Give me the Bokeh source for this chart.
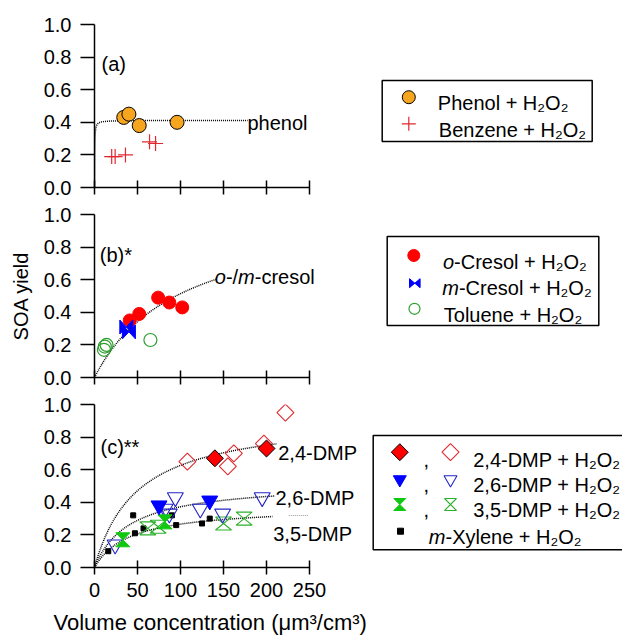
import numpy as np
from bokeh.plotting import figure
from bokeh.models import Range1d, FixedTicker, PrintfTickFormatter, Label, LinearAxis, Title
from bokeh.layouts import column
from bokeh.embed import file_html
from bokeh.resources import INLINE

FONT = "Liberation Sans"

# ---------------- data ----------------
x_ticks = [0, 50, 100, 150, 200, 250]
y_ticks = [0.0, 0.2, 0.4, 0.6, 0.8, 1.0]

phenol_x = [34, 40, 52, 96]
phenol_y = [0.43, 0.45, 0.38, 0.40]
benzene_x = [20, 24, 36, 64, 71]
benzene_y = [0.19, 0.19, 0.20, 0.28, 0.27]

ocresol_x = [41, 52, 74, 87, 102]
ocresol_y = [0.35, 0.39, 0.49, 0.46, 0.43]
mcresol_x = [37, 40]
mcresol_y = [0.31, 0.28]
toluene_x = [11, 12, 14, 65]
toluene_y = [0.17, 0.19, 0.20, 0.23]

dmp24_x = [140, 200]
dmp24_y = [0.67, 0.73]
dmp24_open_x = [108, 155, 162, 197, 222]
dmp24_open_y = [0.65, 0.62, 0.70, 0.76, 0.95]
dmp26_x = [75, 134]
dmp26_y = [0.38, 0.41]
dmp26_open_x = [24, 82, 87, 94, 123, 149, 195]
dmp26_open_y = [0.14, 0.36, 0.33, 0.43, 0.36, 0.33, 0.43]
dmp35_x = [33, 82]
dmp35_y = [0.17, 0.28]
dmp35_open_x = [62, 74, 150, 174]
dmp35_open_y = [0.24, 0.25, 0.27, 0.30]
mxylene_x = [16, 45, 47, 57, 90, 95, 125, 134]
mxylene_y = [0.10, 0.32, 0.21, 0.24, 0.32, 0.26, 0.27, 0.30]

# yield-curve fits  Y = a*K*M / (1 + K*M)
fit_names = ["phenol", "cresol", "dmp24", "dmp26", "dmp35"]
fit_a = [0.412, 1.03, 0.935, 0.524, 0.374]
fit_K = [5.0, 0.00997, 0.0203, 0.0246, 0.0246]
fit_end = [178, 142, 212, 210, 207]

# ---------------- geometry / style ----------------
FW, FH = 528, 163
XPX = 0.86          # px per x unit
YPX = FH / 1.0      # px per y unit
LEFT = 94

ORANGE = "#F5A51E"
RED = "#FF0000"
RED2 = "#E0282E"
BLUE = "#0000FF"
BLUE2 = "#2424C8"
GREEN = "#10C810"
GREEN2 = "#2DB02D"
GREEN3 = "#2E9E2E"


def make_fig(top, bottom, ylabel=None, xlabels=False):
    p = figure(frame_width=FW, frame_height=FH,
               x_range=Range1d(0, FW / XPX), y_range=Range1d(0, 1.0),
               x_axis_type=None, y_axis_type=None,
               output_backend="svg", toolbar_location=None,
               min_border_left=LEFT, min_border_right=0,
               min_border_top=top, min_border_bottom=bottom,
               background_fill_color="white", border_fill_color="white",
               outline_line_color=None)
    p.extra_x_ranges = {"px": Range1d(0, FW)}
    p.extra_y_ranges = {"px": Range1d(0, FH)}

    xa = LinearAxis(ticker=FixedTicker(ticks=x_ticks), bounds=(0, 250),
                    major_tick_in=7, major_tick_out=7,
                    minor_tick_in=0, minor_tick_out=0,
                    axis_line_width=1.5, major_tick_line_width=1.5,
                    axis_line_color="black", major_tick_line_color="black",
                    major_label_text_font=FONT, major_label_text_color="black")
    if xlabels:
        xa.major_label_text_font_size = "20px"
        xa.major_label_standoff = 8
    else:
        xa.major_label_overrides = {t: "" for t in x_ticks}
        xa.major_label_text_font_size = "0px"
        xa.major_label_standoff = 0
    p.add_layout(xa, "below")

    ya = LinearAxis(ticker=FixedTicker(ticks=y_ticks),
                    formatter=PrintfTickFormatter(format="%.1f"),
                    bounds=(0, 1),
                    major_tick_in=0, major_tick_out=14,
                    minor_tick_in=0, minor_tick_out=0,
                    axis_line_width=1.5, major_tick_line_width=1.5,
                    axis_line_color="black", major_tick_line_color="black",
                    major_label_text_font=FONT, major_label_text_font_size="20px",
                    major_label_text_color="black", major_label_standoff=9)
    if ylabel:
        ya.axis_label = ylabel
        ya.axis_label_text_font = FONT
        ya.axis_label_text_font_size = "20px"
        ya.axis_label_text_font_style = "normal"
        ya.axis_label_text_color = "black"
        ya.axis_label_standoff = 9
    p.add_layout(ya, "left")
    return p


def txt(p, x, y, s, style="normal", size="20px", color="black", align="left"):
    p.add_layout(Label(x=x, y=y, text=s, x_range_name="px", y_range_name="px",
                       text_font=FONT, text_font_size=size, text_font_style=style,
                       text_color=color, text_align=align, text_baseline="alphabetic"))


def fit_line(p, i):
    M = np.concatenate([np.linspace(0, 3, 80), np.linspace(3, fit_end[i], 240)[1:]])
    Y = fit_a[i] * fit_K[i] * M / (1 + fit_K[i] * M)
    p.line(M, Y, line_color="black", line_dash="1 1", line_width=1.5)


def hourglass(xs, ys, w, h, sx, sy):
    pxs = [[x - w * sx, x + w * sx, x - w * sx, x + w * sx] for x in xs]
    pys = [[y + h * sy, y + h * sy, y - h * sy, y - h * sy] for y in ys]
    return pxs, pys


def bowtie(xs, ys, w, h, sx, sy):
    pxs = [[x - w * sx, x - w * sx, x + w * sx, x + w * sx] for x in xs]
    pys = [[y + h * sy, y - h * sy, y + h * sy, y - h * sy] for y in ys]
    return pxs, pys


DX, DY = 1 / XPX, 1 / YPX   # data units per pixel
PX = dict(x_range_name="px", y_range_name="px")

# ================= panel (a) =================
pa = make_fig(24, 11)
fit_line(pa, 0)
pa.scatter(benzene_x, benzene_y, marker="cross", size=15, line_color=RED2, line_width=1.2)
pa.scatter(phenol_x, phenol_y, marker="circle", size=14, fill_color=ORANGE,
           line_color="black", line_width=1)
txt(pa, 7, 124, "(a)")
txt(pa, 153, 65, "phenol")
# legend (a)
pa.quad(left=[287.7], right=[497.7], top=[107], bottom=[46], fill_color=None,
        line_color="black", line_width=1.5, **PX)
pa.scatter([314.3], [90.3], marker="circle", size=13, fill_color=ORANGE,
           line_color="black", line_width=1, **PX)
pa.scatter([314.3], [63.7], marker="cross", size=14, line_color=RED2, line_width=1.2, **PX)
txt(pa, 343.3, 84.3, "Phenol + H\u2082O\u2082")
txt(pa, 344.3, 57.7, "Benzene + H\u2082O\u2082")

# ================= panel (b) =================
pb = make_fig(16, 11, ylabel="SOA yield")
fit_line(pb, 1)
pb.scatter(toluene_x, toluene_y, marker="circle", size=13, fill_color=None,
           line_color=GREEN3, line_width=1.2)
pb.scatter(ocresol_x, ocresol_y, marker="circle", size=13, fill_color=RED, line_color=RED)
bx, by = bowtie(mcresol_x, mcresol_y, 6.5, 7, DX, DY)
pb.patches(bx, by, fill_color=BLUE, line_color=BLUE, line_width=1)
txt(pb, 5.3, 122.7, "(b)*")
txt(pb, 120.3, 101, "o", style="italic")
txt(pb, 131.4, 101, "-/")
txt(pb, 143.6, 101, "m", style="italic")
txt(pb, 160.3, 101, "-cresol")
# legend (b)
pb.quad(left=[292.7], right=[504.3], top=[141], bottom=[52], fill_color=None,
        line_color="black", line_width=1.5, **PX)
pb.scatter([319.3], [122], marker="circle", size=12, fill_color=RED, line_color=RED, **PX)
lbx, lby = bowtie([320.3], [94.3], 5.3, 4.5, 1, 1)
pb.patches(lbx, lby, fill_color=BLUE, line_color=BLUE, line_width=1, **PX)
pb.scatter([320], [68.7], marker="circle", size=11, fill_color=None,
           line_color=GREEN3, line_width=1.2, **PX)
txt(pb, 348.5, 115.3, "o", style="italic")
txt(pb, 359.6, 115.3, "-Cresol + H\u2082O\u2082")
txt(pb, 347.7, 89.3, "m", style="italic")
txt(pb, 364.4, 89.3, "-Cresol + H\u2082O\u2082")
txt(pb, 349.3, 63, "Toluene + H\u2082O\u2082")

# ================= panel (c) =================
pc = make_fig(16, 75, xlabels=True)
pc.add_layout(Title(text="Volume concentration (\u03bcm\u00b3/cm\u00b3)", align="left",
                    offset=-41, text_font=FONT, text_font_size="22px",
                    text_font_style="normal", text_color="black", standoff=17), "below")
for i in (2, 3, 4):
    fit_line(pc, i)
pc.line([194.3, 214.3], [52, 52], line_color="#9A9A9A", line_dash="1 1", line_width=1, **PX)
pc.scatter(mxylene_x, mxylene_y, marker="square", size=5, fill_color="black", line_color="black")
hx, hy = hourglass(dmp35_open_x, dmp35_open_y, 8, 6.5, DX, DY)
pc.patches(hx, hy, fill_color=None, line_color=GREEN2, line_width=1.1)
pc.scatter(dmp26_open_x, dmp26_open_y, marker="inverted_triangle", size=16, fill_color=None,
           line_color=BLUE2, line_width=1.1)
pc.scatter(dmp24_open_x, dmp24_open_y, marker="square", angle=np.pi / 4, size=12,
           fill_color=None, line_color=RED2, line_width=1.1)
hx, hy = hourglass(dmp35_x, dmp35_y, 7, 7, DX, DY)
pc.patches(hx, hy, fill_color=GREEN, line_color=GREEN, line_width=1)
pc.scatter(dmp26_x, dmp26_y, marker="inverted_triangle", size=16, fill_color=BLUE, line_color=BLUE)
pc.scatter(dmp24_x, dmp24_y, marker="square", angle=np.pi / 4, size=12,
           fill_color=RED, line_color="black", line_width=1)
txt(pc, 6, 121, "(c)**")
txt(pc, 183.7, 114.3, "2,4-DMP")
txt(pc, 181, 69.7, "2,6-DMP")
txt(pc, 178.7, 33.7, "3,5-DMP")
# legend (c)
pc.quad(left=[278.7], right=[560], top=[132], bottom=[17.7], fill_color=None,
        line_color="black", line_width=1.5, **PX)
pc.scatter([305.3], [115.3], marker="square", angle=np.pi / 4, size=12,
           fill_color=RED, line_color="black", line_width=1, **PX)
pc.scatter([356], [115.3], marker="square", angle=np.pi / 4, size=12,
           fill_color=None, line_color=RED2, line_width=1.1, **PX)
pc.scatter([305.3], [88], marker="inverted_triangle", size=13, fill_color=BLUE,
           line_color=BLUE, **PX)
pc.scatter([356], [88], marker="inverted_triangle", size=13, fill_color=None,
           line_color=BLUE2, line_width=1.1, **PX)
lhx, lhy = hourglass([305.3], [63], 6, 6, 1, 1)
pc.patches(lhx, lhy, fill_color=GREEN, line_color=GREEN, line_width=1, **PX)
lhx, lhy = hourglass([356], [63], 6, 6, 1, 1)
pc.patches(lhx, lhy, fill_color=None, line_color=GREEN2, line_width=1.1, **PX)
pc.scatter([306], [36.3], marker="square", size=6, fill_color="black", line_color="black", **PX)
for yb in (108, 83, 57.7):
    txt(pc, 329, yb, ",")
txt(pc, 378.7, 108, "2,4-DMP + H\u2082O\u2082")
txt(pc, 378.7, 83, "2,6-DMP + H\u2082O\u2082")
txt(pc, 378.7, 57.7, "3,5-DMP + H\u2082O\u2082")
txt(pc, 334.3, 31, "m", style="italic")
txt(pc, 351, 31, "-Xylene + H\u2082O\u2082")

layout = column(pa, pb, pc)
open("out.html", "w").write(file_html(layout, INLINE))
